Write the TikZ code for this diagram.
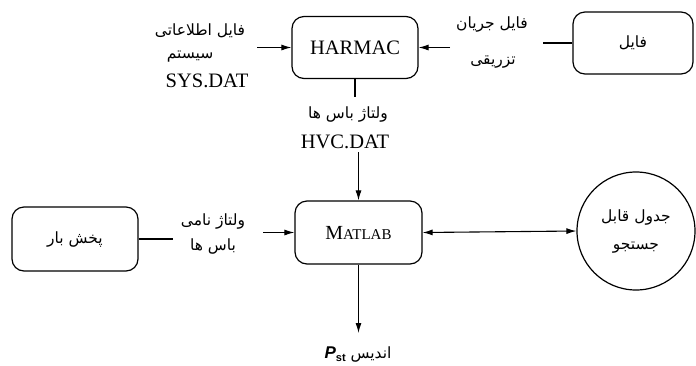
\documentclass[tikz,border=0pt]{standalone}
\usepackage{fontspec}
\setmainfont{Liberation Serif}
\newfontfamily\fa[Script=Arabic]{DejaVu Sans}
\newfontfamily\sansf{Liberation Sans}
\TeXXeTstate=1
\usetikzlibrary{arrows.meta}
\newcommand{\fat}[1]{{\fa\beginR #1\endR}}
\begin{document}
\begin{tikzpicture}[x=1pt,y=-1pt,
  box/.style={draw, line width=1.2pt, rounded corners=12pt, minimum width=126pt, minimum height=62pt, inner sep=0pt},
  fatext/.style={font=\fa\fontsize{15.5}{18}\selectfont, inner sep=0pt},
  latext/.style={font=\fontsize{20.5}{24}\selectfont, inner sep=0pt},
  conn/.style={line width=1.1pt},
  arr/.style={conn, -{Latex[length=10pt,width=6pt]}},
  darr/.style={conn, {Latex[length=10pt,width=6pt]}-{Latex[length=10pt,width=6pt]}}]
\useasboundingbox (0,0) rectangle (696,365);

% boxes
\node[box, latext] (harmac) at (355,47.5) {HARMAC};
\node[box, fatext, minimum width=120pt] (file) at (633,43) {\fat{فایل}};
\node[box, font=\fontsize{20}{24}\selectfont, minimum width=127pt, minimum height=63pt] (matlab) at (358.5,232.5) {M{\fontsize{15}{18}\selectfont ATLAB}};
\node[box, fatext, minimum height=64pt] (pakhsh) at (75,239) {\fat{پخش بار}};
\node[circle, draw, line width=1.2pt, minimum size=118pt, inner sep=0pt, fatext, align=center] (table) at (636,231) {\fat{جدول قابل}\\[10pt]\fat{جستجو}};

% labels
\node[fatext] (sys1) at (200,31) {\fat{فایل اطلاعاتی}};
\node[fatext] (sys2) at (190,57) {\fat{سیستم}};
\node[latext] (sys3) at (207,81) {SYS.DAT};
\node[fatext] (inj1) at (492,24) {\fat{فایل جریان}};
\node[fatext] (inj2) at (493,62) {\fat{تزریقی}};
\node[fatext] (hvc1) at (348,114) {\fat{ولتاژ باس ها}};
\node[latext] (hvc2) at (345,142) {HVC.DAT};
\node[fatext] (nom1) at (213,221) {\fat{ولتاژ نامی}};
\node[fatext] (nom2) at (213,246) {\fat{باس ها}};
\node[fatext] (pst) at (358,354) {{\sansf\bfseries\itshape\fontsize{17}{20}\selectfont P}\raisebox{-3pt}{\sansf\bfseries\fontsize{11}{13}\selectfont st}\ \fat{اندیس}};

% connector ends
\coordinate (sysin) at (257,47.5);
\coordinate (injA) at (543,43);
\coordinate (injB) at (450,47.5);
\coordinate (hvA) at (355,97);
\coordinate (hvB) at (358.5,152);
\coordinate (nomA) at (173,239);
\coordinate (nomB) at (263,232.5);
\coordinate (pstA) at (358.5,333);

% connectors
\draw[arr] (sysin) -- (harmac.west);
\draw[conn] (file.west) -- (injA);
\draw[arr] (injB) -- (harmac.east);
\draw[conn] (harmac.south) -- (hvA);
\draw[arr] (hvB) -- (matlab.north);
\draw[conn] (pakhsh.east) -- (nomA);
\draw[arr] (nomB) -- (matlab.west);
\draw[darr] (matlab.east) -- (table.west);
\draw[arr] (matlab.south) -- (pstA);
\end{tikzpicture}
\end{document}
